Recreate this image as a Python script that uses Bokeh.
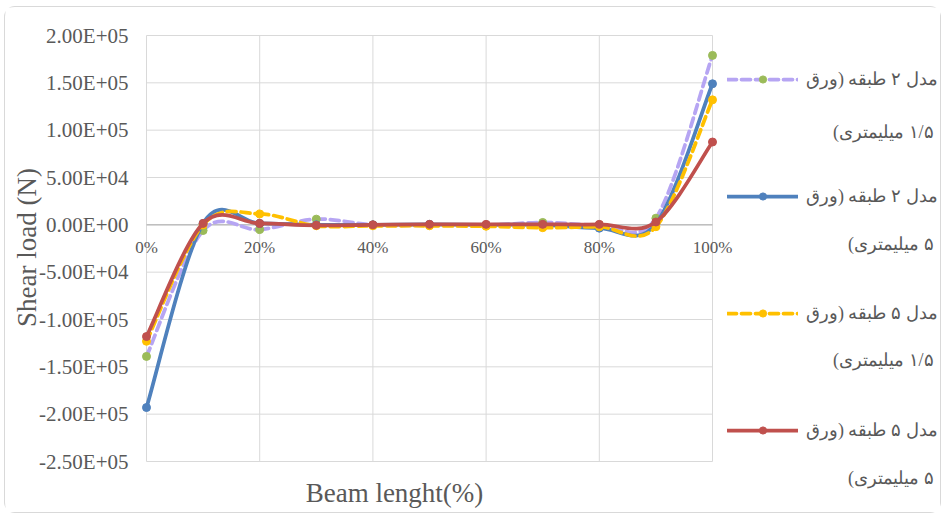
import math
import numpy as np
from bokeh.plotting import figure
from bokeh.models import (Range1d, CustomJSTickFormatter, Legend, LegendItem, Label,
                          ColumnDataSource)
from bokeh.embed import file_html
from bokeh.resources import INLINE

# ---- data ----
x_pct = [0, 10, 20, 30, 40, 50, 60, 70, 80, 90, 100]
s_2f_15 = [-139000, -6000, -5000, 6000, 0, -500, -500, 2500, 0, 7000, 179000]
s_2f_5 = [-193000, 1500, 1500, 0, 0, 500, 0, 0, -3500, 1000, 149000]
s_5f_15 = [-123000, 0, 11500, -1000, -1000, -1000, -1500, -3000, -2000, -2000, 132000]
s_5f_5 = [-118000, 1500, 1500, -500, 0, 500, 500, 500, 500, 3000, 87500]

names_line1 = ["مدل ۲ طبقه (ورق", "مدل ۲ طبقه (ورق", "مدل ۵ طبقه (ورق", "مدل ۵ طبقه (ورق"]
names_line2 = ["۱/۵ میلیمتری)", "۵ میلیمتری)", "۱/۵ میلیمتری)", "۵ میلیمتری)"]

x_ticks = [0, 20, 40, 60, 80, 100]
x_tick_labels = ["0%", "20%", "40%", "60%", "80%", "100%"]
y_ticks = [-250000, -200000, -150000, -100000, -50000, 0, 50000, 100000, 150000, 200000]

x_title = "Beam lenght(%)"
y_title = "Shear load (N)"

# ---- layout (pixels inside the figure) ----
W, H = 935, 505
PA_L, PA_R, PA_T, PA_B = 141, 707, 28, 454   # plot area in figure pixels

line_colors = ["#B6A5F3", "#4F81BD", "#FFC000", "#C0504D"]
marker_colors = ["#9BBB59", "#4F81BD", "#FFC000", "#C0504D"]
dashes = ["9 5", "solid", "9 5", "solid"]
FONT = "Liberation Serif"
TXT = "#595959"
GRID = "#d9d9d9"

x0d, x1d = x_ticks[0], x_ticks[-1]
y0d, y1d = y_ticks[0], y_ticks[-1]
xpp = (x1d - x0d) / (PA_R - PA_L)
ypp = (y1d - y0d) / (PA_B - PA_T)
x_range = Range1d(x0d - PA_L * xpp, x1d + (W - PA_R) * xpp)
y_range = Range1d(y0d - (H - PA_B) * ypp, y1d + PA_T * ypp)


def bezier_source(xs, ys):
    P = np.column_stack([xs, ys]).astype(float)
    Pm = np.vstack([P[:1], P, P[-1:]])
    c0 = P[:-1] + (Pm[2:-1] - Pm[:-3]) / 6.0
    c1 = P[1:] - (Pm[3:] - Pm[1:-2]) / 6.0
    return ColumnDataSource(dict(
        x0=P[:-1, 0], y0=P[:-1, 1], x1=P[1:, 0], y1=P[1:, 1],
        cx0=c0[:, 0], cy0=c0[:, 1], cx1=c1[:, 0], cy1=c1[:, 1]))


p = figure(width=W, height=H, output_backend="svg", toolbar_location=None,
           x_range=x_range, y_range=y_range,
           min_border_left=0, min_border_right=0, min_border_top=0,
           min_border_bottom=0)
p.margin = (7, 0, 0, 5)
p.styles = {"box-shadow": "0 0 0 1px #d9d9d9", "border-radius": "10px"}
p.outline_line_color = None
p.xgrid.visible = False
p.ygrid.visible = False

# grid lines limited to the plot area
p.segment(x0=x_ticks, y0=[y0d] * len(x_ticks), x1=x_ticks, y1=[y1d] * len(x_ticks),
          line_color=GRID, line_width=1)
p.segment(x0=[x0d] * len(y_ticks), y0=y_ticks, x1=[x1d] * len(y_ticks), y1=y_ticks,
          line_color=GRID, line_width=1)
p.line([x0d, x1d], [0, 0], line_color="#bfbfbf", line_width=1.5)

# x axis at zero
p.xaxis.fixed_location = 0
p.xaxis.ticker = x_ticks
p.xaxis.major_label_overrides = {t: l for t, l in zip(x_ticks, x_tick_labels)}
p.xaxis.major_tick_out = 0
p.xaxis.major_tick_in = 0
p.xaxis.minor_tick_out = 0
p.xaxis.minor_tick_in = 0
p.xaxis.axis_line_color = None
p.xaxis.major_label_standoff = 13
p.xaxis.major_label_text_font = FONT
p.xaxis.major_label_text_font_size = "17px"
p.xaxis.major_label_text_color = TXT

# y axis at 0 %
p.yaxis.fixed_location = x0d
p.yaxis.ticker = y_ticks
p.yaxis.formatter = CustomJSTickFormatter(code="""
const s = tick.toExponential(2);
const parts = s.split('e');
const n = parseInt(parts[1]);
return parts[0] + 'E' + (n < 0 ? '-' : '+') + String(Math.abs(n)).padStart(2, '0');
""")
p.yaxis.major_tick_out = 0
p.yaxis.major_tick_in = 0
p.yaxis.minor_tick_out = 0
p.yaxis.minor_tick_in = 0
p.yaxis.axis_line_color = None
p.yaxis.major_label_standoff = 18
p.yaxis.major_label_text_font = FONT
p.yaxis.major_label_text_font_size = "21px"
p.yaxis.major_label_text_color = TXT

series = [s_2f_15, s_2f_5, s_5f_15, s_5f_5]
items = []
for i, ys in enumerate(series):
    src = bezier_source(x_pct, ys)
    br = p.bezier(x0="x0", y0="y0", x1="x1", y1="y1", cx0="cx0", cy0="cy0",
                  cx1="cx1", cy1="cy1", source=src, line_color=line_colors[i],
                  line_width=3.75, line_dash=dashes[i], line_cap="round")
    sr = p.scatter(x_pct, ys, size=8, fill_color=marker_colors[i],
                   line_color=marker_colors[i], marker="circle")
    items.append(LegendItem(label=names_line1[i], renderers=[br, sr]))

# legend (samples + first line of each name)
LEG_X, LEG_C1, STEP, GH, LH = 722, 72, 117, 18, 30
TEXT_RIGHT = 928
LEG_FONT = "18px"
leg_h = 4 * LH + 3 * (STEP - LH)
legend = Legend(items=items, location=(LEG_X, H - (LEG_C1 - LH // 2 + leg_h)),
                padding=0, margin=0, spacing=STEP - LH,
                glyph_width=71, glyph_height=GH, label_height=LH,
                label_standoff=8, label_text_baseline="top",
                label_text_font=FONT, label_text_font_size=LEG_FONT,
                label_text_color=TXT, border_line_color=None,
                background_fill_alpha=0)
p.add_layout(legend, "center")

# second lines of legend names (right aligned)
line2_y = [124, 236, 352, 470]
for t, yy in zip(names_line2, line2_y):
    p.add_layout(Label(x=TEXT_RIGHT, y=H - yy, x_units="screen", y_units="screen",
                       text="\u200f" + t + "\u200f", text_align="right",
                       text_baseline="middle", text_font=FONT,
                       text_font_size=LEG_FONT, text_color=TXT))

# axis titles
p.add_layout(Label(x=389, y=H - 485, x_units="screen", y_units="screen",
                   text=x_title, text_align="center", text_baseline="middle",
                   text_font=FONT, text_font_size="27px", text_color=TXT))
p.add_layout(Label(x=21, y=H - 240, x_units="screen", y_units="screen",
                   text=y_title, angle=math.pi / 2, text_align="center",
                   text_baseline="middle", text_font=FONT, text_font_size="27px",
                   text_color=TXT))

open("out.html", "w").write(file_html(p, INLINE))
